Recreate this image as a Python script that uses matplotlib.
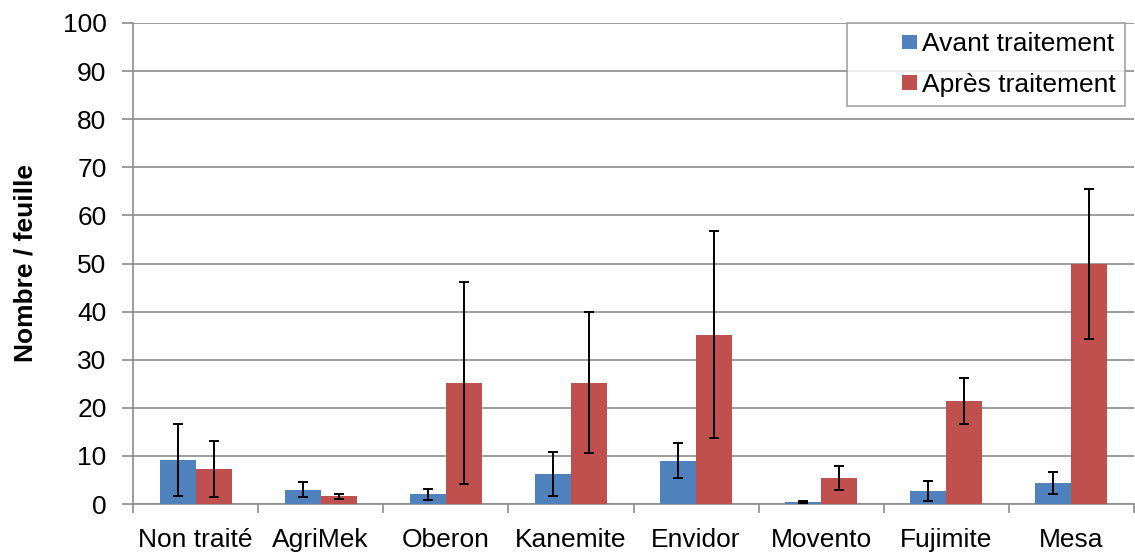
import matplotlib
matplotlib.use("Agg")
import matplotlib.pyplot as plt
from matplotlib.legend_handler import HandlerPatch
from matplotlib.patches import Rectangle
from matplotlib.container import BarContainer
import numpy as np

categories = ["Non traité", "AgriMek", "Oberon", "Kanemite", "Envidor", "Movento", "Fujimite", "Mesa"]
avant = [9.1, 3.0, 2.0, 6.2, 9.0, 0.5, 2.7, 4.4]
avant_err = [7.5, 1.6, 1.1, 4.6, 3.6, 0.2, 2.0, 2.3]
apres = [7.3, 1.6, 25.2, 25.2, 35.2, 5.5, 21.4, 49.8]
apres_err = [5.9, 0.55, 21.0, 14.7, 21.5, 2.5, 4.8, 15.6]
series_names = ["Avant traitement", "Après traitement"]

plt.rcParams['font.family'] = ['Liberation Sans', 'DejaVu Sans']
FS = 19

fig = plt.figure(figsize=(11.35, 5.6), dpi=100)
ax = fig.add_axes([133/1135, 1 - 504/560, 1001/1135, (504 - 23)/560])

x = np.arange(len(categories))
w = 0.288
ekw = dict(ecolor='black', elinewidth=1.4, capsize=3.7, capthick=1.4)
ax.bar(x - w/2, avant, w, color='#4F81BD', yerr=avant_err, error_kw=ekw, label=series_names[0], zorder=3)
ax.bar(x + w/2, apres, w, color='#C0504D', yerr=apres_err, error_kw=ekw, label=series_names[1], zorder=3)

ax.set_xlim(-0.5, len(categories) - 0.5)
ax.set_ylim(0, 100)
ax.set_yticks(np.arange(0, 101, 10))
ax.yaxis.grid(True, color='#8c8c8c', linewidth=1.2, zorder=0)
ax.set_axisbelow(True)

ax.set_xticks(x)
ax.set_xticklabels(categories, fontsize=FS)
ax.tick_params(axis='x', length=0, pad=17)
ax.set_xticks(np.arange(-0.5, len(categories), 1), minor=True)
ax.tick_params(axis='x', which='minor', length=6.5, color='#8c8c8c', width=1.2)
ax.tick_params(axis='y', labelsize=FS, length=8, color='#8c8c8c', width=1.2, pad=11)

for s in ['top', 'right']:
    ax.spines[s].set_visible(False)
for s in ['left', 'bottom']:
    ax.spines[s].set_color('#8c8c8c')
    ax.spines[s].set_linewidth(1.2)

ax.set_ylabel("Nombre / feuille", fontsize=FS, fontweight='bold', labelpad=18)


def small_square(legend, orig_handle, xdescent, ydescent, width, height, fontsize):
    s = 0.55 * fontsize
    return Rectangle((-xdescent + width - s, -ydescent + (height - s) / 2), s, s)


def update_first(legend_handle, orig_handle):
    first = orig_handle[0] if isinstance(orig_handle, BarContainer) else orig_handle
    legend_handle.update_from(first)


leg = ax.legend(loc='upper right', bbox_to_anchor=((1125 - 133) / 1001, 1.0), fontsize=FS, frameon=True,
                fancybox=False, edgecolor='#8c8c8c', handlelength=2.3, handleheight=0.7,
                handletextpad=0.2, borderpad=0.35, labelspacing=0.62, borderaxespad=0.0,
                handler_map={BarContainer: HandlerPatch(patch_func=small_square, update_func=update_first)})
leg.get_frame().set_linewidth(1.2)

fig.savefig("out.png", dpi=100)
